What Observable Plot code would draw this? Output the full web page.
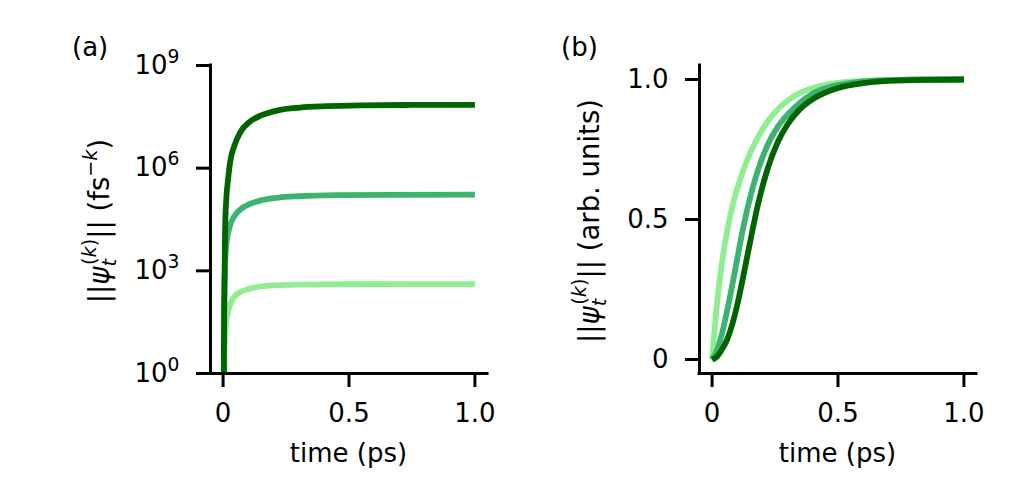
<!DOCTYPE html>
<html><head><meta charset="utf-8">
<script src="https://cdn.jsdelivr.net/npm/d3@7"></script>
<script src="https://cdn.jsdelivr.net/npm/@observablehq/plot@0.6"></script>
<style>
body{margin:0;background:#fff;}
#fig{position:relative;width:1011px;height:504px;background:#fff;overflow:hidden;}
#fig svg{position:absolute;top:0;overflow:visible;}
</style></head><body><div id="fig"></div>
<script>
// ---- data ----
const orders = ["k=1", "k=2", "k=3"];
const seriesColors = ["#90ee90", "#3cb371", "#006400"];

// panel (a): ||psi_t^(k)|| in fs^-k (log axis), time in ps
const tA1 = [0, 0.006, 0.012, 0.025, 0.052, 0.105, 0.171, 0.3, 0.5, 1.0];
const normA1 = [0, 5, 29, 89, 200, 302, 363, 394, 405, 407];
const tA2 = [0, 0.004, 0.008, 0.012, 0.025, 0.045, 0.07, 0.105, 0.15, 0.22, 0.3, 0.45, 0.7, 1.0];
const normA2 = [0, 40, 1500, 5000, 17800, 39800, 63100, 89100, 114800, 138000, 151000, 162000, 166700, 168300];
const tA3 = [0, 0.003, 0.005, 0.008, 0.012, 0.020, 0.028, 0.045, 0.068, 0.105, 0.151, 0.218, 0.304, 0.41, 0.55, 0.75, 1.0];
const normA3 = [0, 3, 250, 1.6e4, 1.02e5, 4.9e5, 1.51e6, 4.57e6, 1.12e7, 2.24e7, 3.47e7, 4.9e7, 5.89e7, 6.46e7, 6.84e7, 7.03e7, 7.11e7];

// panel (b): normalised ||psi_t^(k)|| (arb. units) on a common time grid
const tB = [0, 0.02, 0.04, 0.06, 0.08, 0.10, 0.12, 0.15, 0.18, 0.22, 0.26, 0.30, 0.35, 0.40, 0.50, 0.60, 0.70, 0.85, 1.0];
const normB1 = [0, 0.205, 0.35, 0.46, 0.545, 0.61, 0.665, 0.735, 0.79, 0.85, 0.893, 0.924, 0.953, 0.970, 0.988, 0.995, 0.998, 1.0, 1.0];
const normB2 = [0, 0.035, 0.095, 0.175, 0.265, 0.36, 0.455, 0.575, 0.67, 0.765, 0.83, 0.875, 0.918, 0.95, 0.98, 0.993, 0.998, 1.0, 1.0];
const normB3 = [0, 0.011, 0.037, 0.072, 0.125, 0.195, 0.28, 0.415, 0.545, 0.68, 0.775, 0.84, 0.895, 0.93, 0.97, 0.987, 0.995, 0.999, 1.0];

const xTicks = [0, 0.5, 1.0];
const xTickLabels = ["0", "0.5", "1.0"];
const yTicksA = [1, 1e3, 1e6, 1e9];
const yTickLabelsA = ["10^0", "10^3", "10^6", "10^9"];
const yTicksB = [0, 0.5, 1.0];
const yTickLabelsB = ["0", "0.5", "1.0"];
const xLabel = "time (ps)";
const panelLabels = ["(a)", "(b)"];

// ---- build tables ----
const tableA = orders.flatMap((k, j) => {
  const ts = [tA1, tA2, tA3][j], vs = [normA1, normA2, normA3][j];
  return ts.map((t, i) => ({k, t, v: vs[i]}));
});
const tableB = orders.flatMap((k, j) => {
  const vs = [normB1, normB2, normB3][j];
  return tB.map((t, i) => ({k, t, v: vs[i]}));
});

const FONT = "DejaVu Sans, sans-serif";
const FS = 26;
const FST = 27.5;
const fig = document.getElementById("fig");

function fmtFrom(ticks, labels) { return d => labels[ticks.indexOf(d)] ?? ""; }

function baseMarks(yTicks, yLabels) {
  return [
    Plot.axisX({ticks: xTicks, tickFormat: fmtFrom(xTicks, xTickLabels), tickSize: 14, tickPadding: 16, strokeWidth: 3, label: null, fontSize: FS}),
    Plot.axisY({ticks: yTicks, tickFormat: fmtFrom(yTicks, yLabels), tickSize: 14, tickPadding: 17, strokeWidth: 3, label: null, fontSize: FS})
  ];
}

function lines(table, yAcc) {
  return orders.map((k, j) => Plot.line(table.filter(r => r.k === k), {
    x: "t", y: yAcc, stroke: seriesColors[j], strokeWidth: 5.8, curve: "monotone-x", clip: true, strokeLinecap: "butt"
  }));
}

// panel (a)
const pa = Plot.plot({
  width: 505, height: 504, marginLeft: 210, marginRight: 18, marginTop: 65, marginBottom: 131,
  style: {fontFamily: FONT, fontSize: FS + "px", background: "transparent", color: "#000", overflow: "visible"},
  x: {domain: [-0.05, 1.05]},
  y: {type: "log", domain: [1, 1e9]},
  marks: [
    ...lines(tableA, d => Math.max(d.v, 1e-12)),
    ...baseMarks(yTicksA, yTickLabelsA),
    Plot.ruleX([-0.05], {strokeWidth: 3, strokeLinecap: "square"}),
    Plot.ruleY([1], {strokeWidth: 3, strokeLinecap: "square"})
  ]
});
pa.style.left = "0px";
fig.appendChild(pa);

// panel (b)
const pb = Plot.plot({
  width: 506, height: 504, marginLeft: 194, marginRight: 35, marginTop: 65, marginBottom: 131,
  style: {fontFamily: FONT, fontSize: FS + "px", background: "transparent", color: "#000", overflow: "visible"},
  x: {domain: [-0.05, 1.05]},
  y: {domain: [-0.05, 1.05]},
  marks: [
    ...lines(tableB, "v"),
    ...baseMarks(yTicksB, yTickLabelsB),
    Plot.ruleX([-0.05], {strokeWidth: 3, strokeLinecap: "square"}),
    Plot.ruleY([-0.05], {strokeWidth: 3, strokeLinecap: "square"})
  ]
});
pb.style.left = "505px";
fig.appendChild(pb);

// superscripts in log tick labels
d3.select(pa).selectAll('g[aria-label="y-axis tick label"] text').each(function() {
  const s = this.textContent;
  if (!s.includes("^")) return;
  const [b, e] = s.split("^");
  const sel = d3.select(this).text(null);
  sel.append("tspan").text(b);
  sel.append("tspan").attr("dy", -11).attr("font-size", FS * 0.72).text(e);
});

function yTitle(svg, x, y, unitParts) {
  const t = d3.select(svg).append("text")
    .attr("transform", `translate(${x},${y}) rotate(-90)`)
    .attr("text-anchor", "middle").attr("font-family", FONT).attr("font-size", FST).attr("fill", "#000");
  t.append("tspan").text("||");
  t.append("tspan").attr("font-style", "italic").text("ψ");
  t.append("tspan").attr("font-style", "italic").attr("font-size", FST * 0.7).attr("dy", 7).text("t");
  const sup = t.append("tspan").attr("font-size", FST * 0.7).attr("dx", -6).attr("dy", -20);
  sup.append("tspan").text("(");
  sup.append("tspan").attr("font-style", "italic").text("k");
  sup.append("tspan").text(")");
  t.append("tspan").attr("dy", 13).text("|| (" + unitParts[0]);
  if (unitParts[1]) {
    const s2 = t.append("tspan").attr("font-size", FST * 0.7).attr("dy", -12);
    s2.append("tspan").text("−");
    s2.append("tspan").attr("font-style", "italic").text("k");
    t.append("tspan").attr("dy", 12).text(")");
  } else {
    t.append("tspan").text(")");
  }
}
function plain(svg, x, y, s, anchor) {
  d3.select(svg).append("text").attr("x", x).attr("y", y).attr("text-anchor", anchor)
    .attr("font-family", FONT).attr("font-size", FS).attr("fill", "#000").text(s);
}

yTitle(pa, 109, 221, ["fs", true]);
yTitle(pb, 94, 221, ["arb. units", false]);
plain(pa, 348.5, 462, xLabel, "middle");
plain(pb, 332.5, 462, xLabel, "middle");
plain(pa, 72, 56, panelLabels[0], "start");
plain(pb, 56, 56, panelLabels[1], "start");
</script></body></html>
